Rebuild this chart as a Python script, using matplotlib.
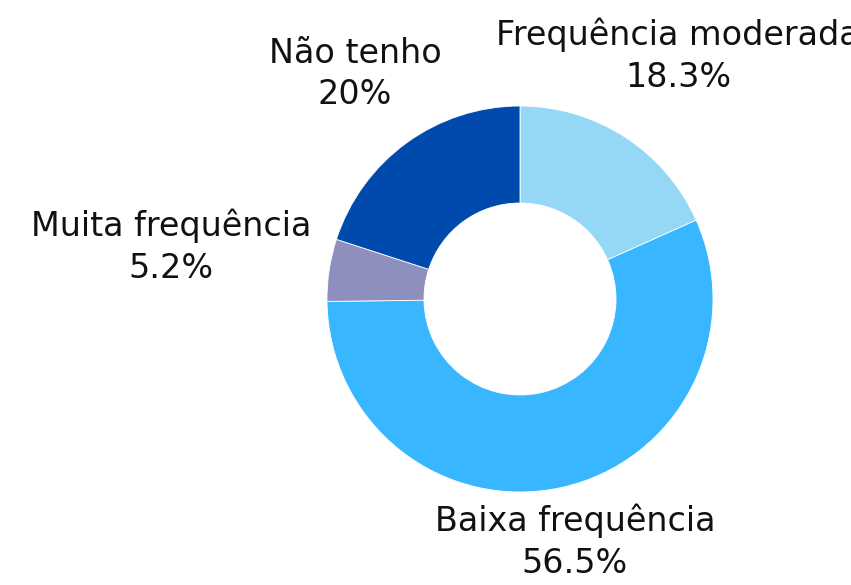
import matplotlib.pyplot as plt

categories = ['Frequência moderada', 'Baixa frequência', 'Muita frequência', 'Não tenho']
values = [18.3, 56.5, 5.2, 20]
colors = ['#94D8F6', '#38B6FF', '#8E8EBF', '#004AAD']

# label centres in pixel coords (y from top)
label_pos = [(678, 56), (575, 542), (171, 247), (355, 74)]

W, H = 851, 585
fig = plt.figure(figsize=(W / 100, H / 100), dpi=100)
ax = fig.add_axes([0, 0, 1, 1])

ax.pie(values, colors=colors, startangle=90, counterclock=False,
       center=(520, H - 299), radius=193, frame=True,
       wedgeprops=dict(width=97, edgecolor='white', linewidth=0.6))
ax.set_xlim(0, W)
ax.set_ylim(0, H)
ax.set_aspect('equal')
ax.axis('off')

for cat, v, (x, y) in zip(categories, values, label_pos):
    ax.text(x, H - y, '%s\n%s%%' % (cat, format(v, 'g')), ha='center', va='center',
            fontsize=24, family='DejaVu Sans', color='#111111', linespacing=1.33)

fig.savefig('out.png', dpi=100)
